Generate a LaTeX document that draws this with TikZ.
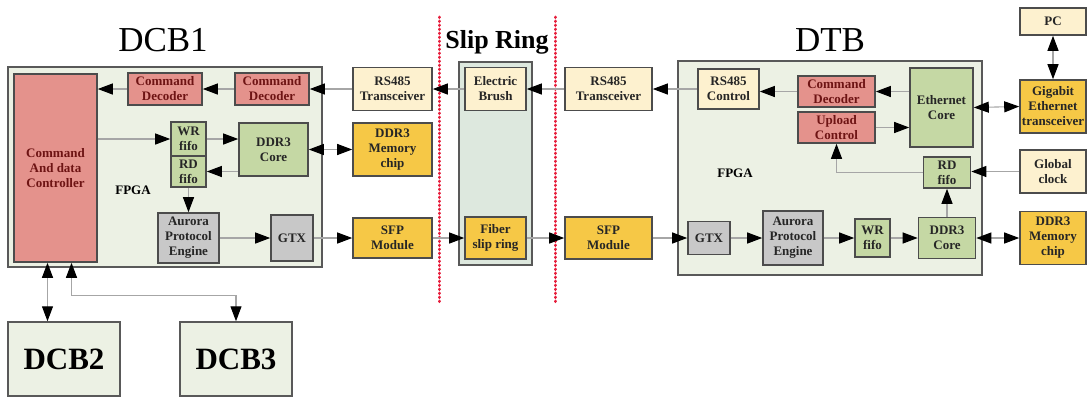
\documentclass[tikz,border=0pt]{standalone}
\usepackage{fontspec}
\setmainfont{Liberation Serif}
\usetikzlibrary{arrows.meta}
\definecolor{fpgabg}{RGB}{236,241,228}
\definecolor{slipbg}{RGB}{221,232,222}
\definecolor{cmdpink}{RGB}{228,146,140}
\definecolor{cmdtext}{RGB}{110,20,20}
\definecolor{coregreen}{RGB}{197,216,164}
\definecolor{iogray}{RGB}{200,200,200}
\definecolor{ifcream}{RGB}{253,241,207}
\definecolor{chipgold}{RGB}{246,200,70}
\definecolor{sepred}{RGB}{230,30,60}
\begin{document}
\begin{tikzpicture}[x=1pt, y=-1pt,
    blk/.style={draw=black!70, line width=1.6pt, rectangle, align=center, inner sep=0pt,
        font=\bfseries\fontsize{13}{15}\selectfont, text=black!85},
    pinkblk/.style={blk, fill=cmdpink, text=cmdtext},
    greenblk/.style={blk, fill=coregreen},
    grayblk/.style={blk, fill=iogray},
    creamblk/.style={blk, fill=ifcream},
    goldblk/.style={blk, fill=chipgold},
    fpgabox/.style={draw=black!65, line width=1.8pt, fill=fpgabg, rectangle},
    flow/.style={draw=black!35, line width=1.1pt, -{Triangle[color=black,length=15pt,width=11pt]}},
    both/.style={flow, {Triangle[color=black,length=15pt,width=11pt]}-{Triangle[color=black,length=15pt,width=11pt]}},
    title/.style={font=\fontsize{35}{38}\selectfont},
]
\useasboundingbox (0,0) rectangle (1087,397);

% titles and separators
\node[title] (t1) at (163,40) {DCB1};
\node[title] (t2) at (830,40) {DTB};
\node[font=\bfseries\fontsize{26}{30}\selectfont] (t3) at (497,42) {Slip Ring};
\foreach \x in {439,555}
    \draw[sepred, line width=3pt, line cap=round, dash pattern=on 0.5pt off 3.5pt] (\x,17) -- (\x,302);

% frames
\node[fpgabox, minimum width=314, minimum height=200] (dcb1) at (165,167) {};
\node[fpgabox, minimum width=304, minimum height=214] (dtb) at (830,168) {};
\node[fpgabox, fill=slipbg, minimum width=73, minimum height=203] (slip) at (495.5,163.5) {};
\node[font=\bfseries\fontsize{13}{15}\selectfont] (fpga1) at (133,190) {FPGA};
\node[font=\bfseries\fontsize{13}{15}\selectfont] (fpga2) at (735,173) {FPGA};

% DCB1
\node[pinkblk, minimum width=83, minimum height=188] (ctrl) at (55.5,168) {Command\\And data\\Controller};
\node[pinkblk, minimum width=74, minimum height=32] (cmd1) at (165,89) {Command\\Decoder};
\node[pinkblk, minimum width=74, minimum height=32] (cmd2) at (272,89) {Command\\Decoder};
\node[greenblk, minimum width=35, minimum height=34] (wr1) at (188.5,139) {WR\\fifo};
\node[greenblk, minimum width=35, minimum height=31] (rd1) at (188.5,171.5) {RD\\fifo};
\node[greenblk, minimum width=69, minimum height=53] (ddr1) at (273.5,149.5) {DDR3\\Core};
\node[grayblk, minimum width=61, minimum height=50] (aur1) at (188.5,238) {Aurora\\Protocol\\Engine};
\node[grayblk, minimum width=42, minimum height=46] (gtx1) at (292,238) {GTX};
\node[creamblk, minimum width=79, minimum height=43] (rs1) at (392.5,89) {RS485\\Transceiver};
\node[goldblk, minimum width=79, minimum height=53] (mem1) at (392.5,149.5) {DDR3\\Memory\\chip};
\node[goldblk, minimum width=79, minimum height=40] (sfp1) at (392.5,238) {SFP\\Module};

% slip ring
\node[creamblk, minimum width=61, minimum height=43] (brush) at (495.5,89) {Electric\\Brush};
\node[goldblk, minimum width=61, minimum height=42] (fiber) at (495.5,238) {Fiber\\slip ring};

% DTB
\node[creamblk, minimum width=87, minimum height=43] (rs2) at (608.5,89) {RS485\\Transceiver};
\node[goldblk, minimum width=87, minimum height=42] (sfp2) at (608.5,238) {SFP\\Module};
\node[creamblk, minimum width=61, minimum height=40] (rsc) at (728.5,89) {RS485\\Control};
\node[pinkblk, minimum width=77, minimum height=31] (cmd3) at (836.5,91.5) {Command\\Decoder};
\node[pinkblk, minimum width=77, minimum height=31] (upl) at (836.5,127.5) {Upload\\Control};
\node[greenblk, minimum width=63, minimum height=79] (eth) at (941.5,107.5) {Ethernet\\Core};
\node[greenblk, minimum width=47, minimum height=31] (rd2) at (947,172.5) {RD\\fifo};
\node[grayblk, minimum width=42, minimum height=33] (gtx2) at (709,238) {GTX};
\node[grayblk, minimum width=60, minimum height=54] (aur2) at (793,238) {Aurora\\Protocol\\Engine};
\node[greenblk, minimum width=35, minimum height=38] (wr2) at (872.5,238) {WR\\fifo};
\node[greenblk, minimum width=57, minimum height=41] (ddr2) at (947,238) {DDR3\\Core};
\node[creamblk, minimum width=66, minimum height=27] (pc) at (1053,21.5) {PC};
\node[goldblk, minimum width=66, minimum height=53] (gig) at (1053,106.5) {Gigabit\\Ethernet\\transceiver};
\node[creamblk, minimum width=66, minimum height=43] (clk) at (1053,171.5) {Global\\clock};
\node[goldblk, minimum width=66, minimum height=53] (mem2) at (1053,238) {DDR3\\Memory\\chip};

% other boards
\node[fpgabox, line width=1.5pt, minimum width=112, minimum height=74, font=\bfseries\fontsize{31}{34}\selectfont] (dcb2) at (64,359) {DCB2};
\node[fpgabox, line width=1.5pt, minimum width=112, minimum height=74, font=\bfseries\fontsize{31}{34}\selectfont] (dcb3) at (236,359) {DCB3};

% command path
\foreach \a/\b in {rsc/rs2, rs2/brush, brush/rs1, rs1/cmd2, cmd2/cmd1}
    \draw[flow] (\a) -- (\b);
\draw[flow] (cmd1.west) -- (cmd1.west -| ctrl.east);
\draw[flow] (cmd3.west) -- (cmd3.west -| rsc.east);
\draw[flow] (cmd3.east -| eth.west) -- (cmd3.east);
\draw[flow] (upl.east) -- (upl.east -| eth.west);
\draw[both] (eth.east) -- (gig.west);
\draw[both] (pc.south) -- (gig.north);

% data path
\foreach \a/\b in {aur1/gtx1, gtx1/sfp1, sfp1/fiber, fiber/sfp2, sfp2/gtx2, gtx2/aur2, aur2/wr2, wr2/ddr2}
    \draw[flow] (\a) -- (\b);
\draw[both] (ddr2) -- (mem2);
\draw[flow] (ddr2) -- (rd2);
\draw[flow] (clk.west) -- (clk.west -| rd2.east);
\draw[flow] (rd2.west) -| (upl.south);
\draw[flow] (ctrl.east |- wr1) -- (wr1.west);
\draw[flow] (wr1.east) -- (wr1.east -| ddr1.west);
\draw[flow] (ddr1.west |- rd1) -- (rd1.east);
\draw[both] (ddr1) -- (mem1);
\draw[flow] (rd1) -- (aur1);

% links to DCB2 and DCB3
\draw[both] ([xshift=-8pt]ctrl.south) -- ([xshift=-8pt]ctrl.south |- dcb2.north);
\draw[both] ([xshift=16pt]ctrl.south) -- ++(0,33) -| (dcb3.north);
\end{tikzpicture}
\end{document}
